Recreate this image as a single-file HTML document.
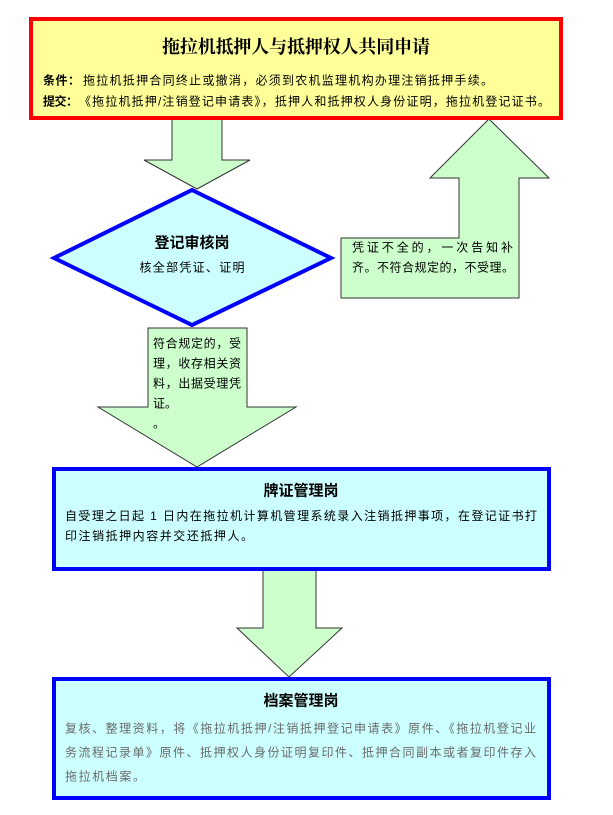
<!DOCTYPE html>
<html>
<head>
<meta charset="utf-8">
<style>
  html, body { margin: 0; padding: 0; background: #ffffff; }
  body { width: 613px; height: 815px; overflow: hidden; }
  svg { display: block; }
  .t { font-family: "Liberation Sans", "Noto Sans CJK SC", sans-serif; font-size: 12px; fill: #000; }
  .b { font-family: "Liberation Sans", "Noto Sans CJK SC", sans-serif; font-weight: bold; fill: #000; }
  .title { font-family: "Liberation Serif", "Noto Serif CJK SC", serif; font-weight: bold; font-size: 18px; fill: #000; }
  .g { font-family: "Liberation Sans", "Noto Sans CJK SC", sans-serif; font-size: 12px; fill: #6a6a6a; }
</style>
</head>
<body>
<svg width="613" height="815" viewBox="0 0 613 815" xmlns="http://www.w3.org/2000/svg">
  <!-- Arrow 1: top box -> diamond -->
  <polygon points="172,119 222,119 222,160 250,160 197,189 144,160 172,160" fill="#CCFFCC" stroke="#333" stroke-width="1"/>
  <!-- L-shaped up arrow -->
  <polygon points="489,119 549,178 519,178 519,298 341,298 341,238 459,238 459,178 430,178" fill="#CCFFCC" stroke="#333" stroke-width="1"/>
  <!-- Arrow 2: diamond -> box 3 -->
  <polygon points="148,328 247,328 247,407 296,407 197,467 98,407 148,407" fill="#CCFFCC" stroke="#333" stroke-width="1"/>
  <!-- Arrow 3: box 3 -> box 4 -->
  <polygon points="263,570 316,570 316,628 342,628 289,677 237,628 263,628" fill="#CCFFCC" stroke="#333" stroke-width="1"/>

  <!-- Top box -->
  <rect x="31" y="19" width="530" height="99" fill="#FFFF99" stroke="#FF0000" stroke-width="4"/>
  <text class="title" x="296" y="53" text-anchor="middle" textLength="268" lengthAdjust="spacing">拖拉机抵押人与抵押权人共同申请</text>
  <text class="b" x="43" y="84.5" font-size="12" textLength="37" lengthAdjust="spacing">条件：</text>
  <text class="t" x="83" y="84.5" textLength="410" lengthAdjust="spacing">拖拉机抵押合同终止或撤消，必须到农机监理机构办理注销抵押手续。</text>
  <text class="b" x="43" y="105.5" font-size="12" textLength="35" lengthAdjust="spacing">提交：</text>
  <text class="t" x="79" y="105.5" textLength="471" lengthAdjust="spacing">《拖拉机抵押/注销登记申请表》，抵押人和抵押权人身份证明，拖拉机登记证书。</text>

  <!-- Diamond -->
  <polygon points="192,190 331,258 192,325 54,258" fill="#CCFFFF" stroke="#0000FF" stroke-width="4" stroke-linejoin="miter"/>
  <text class="b" x="192" y="247.5" font-size="15" text-anchor="middle">登记审核岗</text>
  <text class="t" x="192" y="271.5" font-size="13" text-anchor="middle" textLength="105" lengthAdjust="spacing">核全部凭证、证明</text>

  <!-- L arrow text -->
  <text class="t" x="352" y="251.5" textLength="161" lengthAdjust="spacing">凭证不全的，一次告知补</text>
  <text class="t" x="352" y="271.5" textLength="162" lengthAdjust="spacing">齐。不符合规定的，不受理。</text>

  <!-- Arrow 2 text -->
  <text class="t" x="153" y="347.5" textLength="88" lengthAdjust="spacing">符合规定的，受</text>
  <text class="t" x="153" y="367.5" textLength="88" lengthAdjust="spacing">理，收存相关资</text>
  <text class="t" x="153" y="387.5" textLength="88" lengthAdjust="spacing">料，出据受理凭</text>
  <text class="t" x="153" y="407.5">证。</text>
  <text class="t" x="153" y="427.5">。</text>

  <!-- Box 3 -->
  <rect x="54" y="469" width="495" height="100" fill="#CCFFFF" stroke="#0000FF" stroke-width="4"/>
  <text class="b" x="301" y="495.5" font-size="15" text-anchor="middle">牌证管理岗</text>
  <text class="t" x="65" y="520" textLength="472" lengthAdjust="spacing">自受理之日起 1 日内在拖拉机计算机管理系统录入注销抵押事项，在登记证书打</text>
  <text class="t" x="65" y="540" textLength="188" lengthAdjust="spacing">印注销抵押内容并交还抵押人。</text>

  <!-- Box 4 -->
  <rect x="54" y="679" width="495" height="119" fill="#CCFFFF" stroke="#0000FF" stroke-width="4"/>
  <text class="b" x="301" y="705.5" font-size="15" text-anchor="middle">档案管理岗</text>
  <text class="g" x="65" y="732.5" textLength="471" lengthAdjust="spacing">复核、整理资料，将《拖拉机抵押/注销抵押登记申请表》原件、《拖拉机登记业</text>
  <text class="g" x="65" y="756.5" textLength="471" lengthAdjust="spacing">务流程记录单》原件、抵押权人身份证明复印件、抵押合同副本或者复印件存入</text>
  <text class="g" x="65" y="780.5" textLength="80" lengthAdjust="spacing">拖拉机档案。</text>
</svg>
</body>
</html>
